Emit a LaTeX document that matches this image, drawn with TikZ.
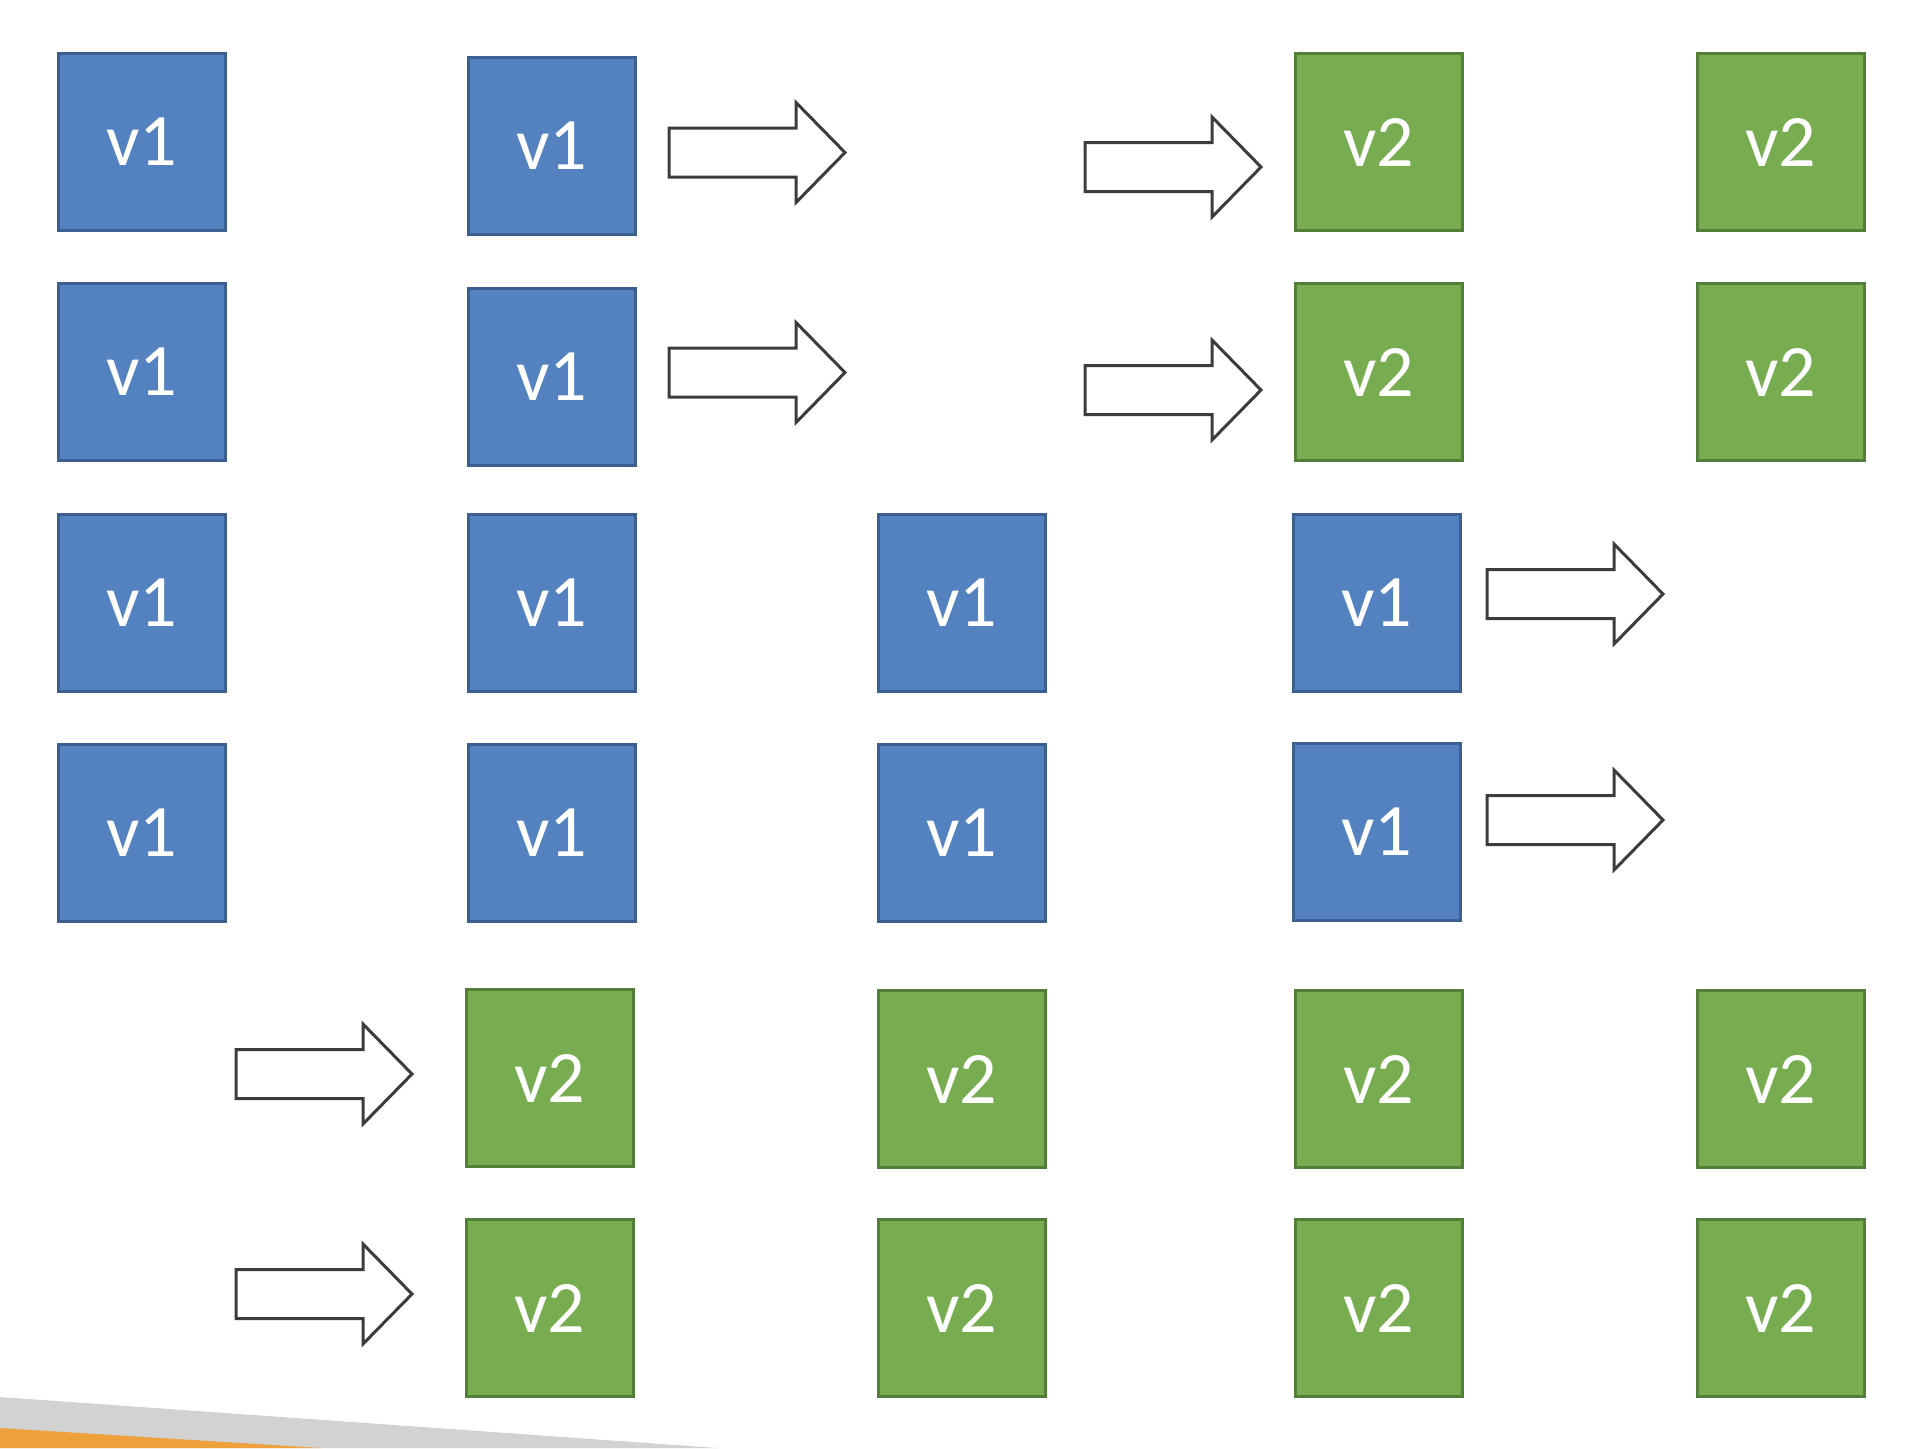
\documentclass[tikz,border=0pt]{standalone}
\usepackage{fontspec}
\setmainfont{Carlito}
\definecolor{bfill}{HTML}{5482C0}
\definecolor{bdraw}{HTML}{3B5F8F}
\definecolor{gfill}{HTML}{78AC50}
\definecolor{gdraw}{HTML}{537E38}
\definecolor{arrowgray}{HTML}{3C3C3C}
\definecolor{bandgray}{HTML}{D2D2D2}
\definecolor{bandorange}{HTML}{EEA03C}
\tikzset{
  vbox/.style={rectangle, line width=1.5pt, minimum width=83.5pt, minimum height=88.5pt, inner sep=0pt,
    text=white, font=\fontsize{37}{40}\selectfont},
  bluebox/.style={vbox, fill=bfill, draw=bdraw},
  greenbox/.style={vbox, fill=gfill, draw=gdraw},
  arrowline/.style={draw=arrowgray, fill=white, line width=1.5pt, line join=miter},
  hollow arrow/.pic={\path[arrowline] (0,-24.5) -- (127,-24.5) -- (127,-50) -- (176,0) -- (127,50) -- (127,24.5) -- (0,24.5) -- cycle;}
}
\begin{document}
\begin{tikzpicture}[x=0.5pt,y=-0.5pt]
\useasboundingbox[fill=white] (0,0) rectangle (1920,1448);
% bottom bands
\fill[bandgray] (0,1397) -- (718,1448) -- (0,1448) -- cycle;
\fill[bandorange] (0,1428) -- (321,1448) -- (0,1448) -- cycle;
% column 1
\node[bluebox] (a1) at (142,142) {v1};
\node[bluebox] (a2) at (142,372) {v1};
\node[bluebox] (a3) at (142,602.5) {v1};
\node[bluebox] (a4) at (142,832.5) {v1};
% column 2
\node[bluebox] (b1) at (552,146) {v1};
\node[bluebox] (b2) at (552,376.5) {v1};
\node[bluebox] (b3) at (552,602.5) {v1};
\node[bluebox] (b4) at (552,832.5) {v1};
\node[greenbox] (b5) at (550,1078) {v2};
\node[greenbox] (b6) at (550,1308) {v2};
% column 3
\node[bluebox] (c3) at (962,602.5) {v1};
\node[bluebox] (c4) at (962,832.5) {v1};
\node[greenbox] (c5) at (962,1079) {v2};
\node[greenbox] (c6) at (962,1308) {v2};
% column 4
\node[greenbox] (d1) at (1378.5,142) {v2};
\node[greenbox] (d2) at (1378.5,372) {v2};
\node[bluebox] (d3) at (1376.5,602.5) {v1};
\node[bluebox] (d4) at (1376.5,831.5) {v1};
\node[greenbox] (d5) at (1378.5,1079) {v2};
\node[greenbox] (d6) at (1378.5,1308) {v2};
% column 5
\node[greenbox] (e1) at (1780.5,142) {v2};
\node[greenbox] (e2) at (1780.5,372) {v2};
\node[greenbox] (e5) at (1780.5,1079) {v2};
\node[greenbox] (e6) at (1780.5,1308) {v2};
% arrows
\pic at (669,152.5) {hollow arrow};
\pic at (669,372.5) {hollow arrow};
\pic at (1085,167) {hollow arrow};
\pic at (1085,390) {hollow arrow};
\pic at (1487,594) {hollow arrow};
\pic at (1487,820) {hollow arrow};
\pic at (236,1074) {hollow arrow};
\pic at (236,1294) {hollow arrow};
\end{tikzpicture}
\end{document}
